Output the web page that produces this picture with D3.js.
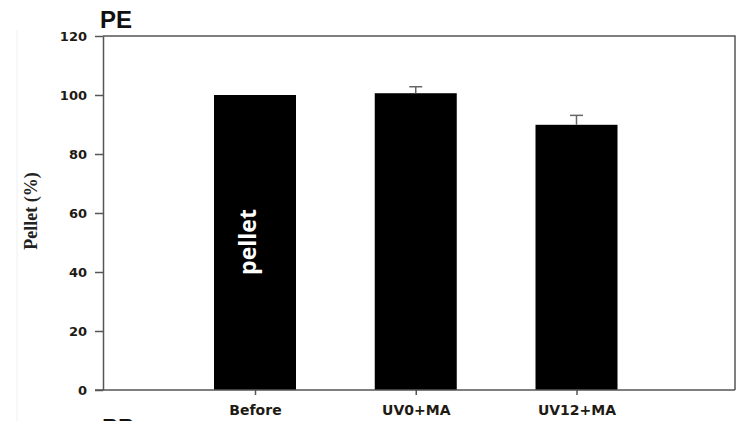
<!DOCTYPE html>
<html>
<head>
<meta charset="utf-8">
<script src="https://cdn.jsdelivr.net/npm/d3@7"></script>
<style>
  body { margin: 0; background: #fff; }
  svg { display: block; }
</style>
</head>
<body>
<svg id="svg1" width="742" height="421"></svg>
<script>
var categories = ["Before", "UV0+MA", "UV12+MA"];
var pellet = [100, 100.6, 89.9];
var pelletErr = [0, 2.2, 3.2];
var yTicks = [0, 20, 40, 60, 80, 100, 120];

var svg = d3.select("#svg1");
var plotLeft = 103, plotRight = 735, plotTop = 36, plotBottom = 390;

var yScale = d3.scaleLinear().domain([0, 120]).range([plotBottom, plotTop]);
var xScale = d3.scalePoint().domain(categories).range([255, 576.5]);
var barW = 82;

// faint crop edge at the left of the scan
svg.append("line")
  .attr("x1", 17).attr("x2", 17).attr("y1", 30).attr("y2", 421)
  .attr("stroke", "#f0f0f0").attr("stroke-width", 1);

// frame (top + right)
svg.append("path")
  .attr("d", "M" + plotLeft + "," + plotTop + "H" + plotRight + "V" + plotBottom)
  .attr("fill", "none")
  .attr("stroke", "#555")
  .attr("stroke-width", 1.5);

// bars
svg.selectAll(".bar")
  .data(categories)
  .enter().append("rect")
  .attr("class", "bar")
  .attr("x", function(d) { return xScale(d) - barW / 2; })
  .attr("y", function(d, i) { return yScale(pellet[i]); })
  .attr("width", barW)
  .attr("height", function(d, i) { return plotBottom - yScale(pellet[i]); })
  .attr("fill", "#000");

// error bars (upper only)
var eb = svg.selectAll(".err")
  .data(categories.filter(function(d, i) { return pelletErr[i] > 0; }))
  .enter().append("g").attr("class", "err");
eb.append("line")
  .attr("x1", function(d) { return xScale(d); })
  .attr("x2", function(d) { return xScale(d); })
  .attr("y1", function(d) { var i = categories.indexOf(d); return yScale(pellet[i]); })
  .attr("y2", function(d) { var i = categories.indexOf(d); return yScale(pellet[i] + pelletErr[i]); })
  .attr("stroke", "#666").attr("stroke-width", 1.5);
eb.append("line")
  .attr("x1", function(d) { return xScale(d) - 6.5; })
  .attr("x2", function(d) { return xScale(d) + 6.5; })
  .attr("y1", function(d) { var i = categories.indexOf(d); return yScale(pellet[i] + pelletErr[i]); })
  .attr("y2", function(d) { var i = categories.indexOf(d); return yScale(pellet[i] + pelletErr[i]); })
  .attr("stroke", "#666").attr("stroke-width", 1.5);

// y axis
var yAxis = svg.append("g")
  .attr("transform", "translate(" + plotLeft + ",0)")
  .call(d3.axisLeft(yScale).tickValues(yTicks).tickSize(8).tickSizeOuter(0).tickPadding(8));
yAxis.select(".domain").attr("stroke", "#555").attr("stroke-width", 1.5);
yAxis.selectAll(".tick line").attr("stroke", "#555").attr("stroke-width", 1.5);
yAxis.selectAll(".tick text")
  .attr("font-family", "DejaVu Sans, sans-serif")
  .attr("font-weight", "bold")
  .attr("font-size", "13px")
  .attr("fill", "#1e1a14");

// x axis
var xAxis = svg.append("g")
  .attr("transform", "translate(0," + plotBottom + ")")
  .call(d3.axisBottom(xScale).tickSize(5).tickSizeOuter(0).tickPadding(10));
xAxis.select(".domain").attr("d", "M" + (plotLeft - 8) + ",0H" + plotRight).attr("stroke", "#555").attr("stroke-width", 1.5);
xAxis.selectAll(".tick line").attr("stroke", "#555").attr("stroke-width", 1.5);
xAxis.selectAll(".tick text")
  .attr("font-family", "DejaVu Sans, sans-serif")
  .attr("font-weight", "bold")
  .attr("font-size", "14px")
  .attr("fill", "#1e1a14");

// y label
svg.append("text")
  .attr("transform", "translate(37,211) rotate(-90)")
  .attr("text-anchor", "middle")
  .attr("font-family", "Liberation Serif, Times New Roman, serif")
  .attr("font-weight", "bold")
  .attr("font-size", "18px")
  .attr("fill", "#222")
  .text("Pellet (%)");

// bar annotation
svg.append("text")
  .attr("transform", "translate(256,242) rotate(-90)")
  .attr("text-anchor", "middle")
  .attr("font-family", "Open Sans, sans-serif")
  .attr("font-weight", "bold")
  .attr("font-size", "23px")
  .attr("fill", "#fff")
  .text("pellet");

// panel titles
svg.append("text")
  .attr("x", 100).attr("y", 28)
  .attr("font-family", "Liberation Sans, Arial, sans-serif")
  .attr("font-weight", "bold")
  .attr("font-size", "24px")
  .attr("fill", "#111")
  .text("PE");
svg.append("text")
  .attr("x", 102).attr("y", 436)
  .attr("font-family", "Liberation Sans, Arial, sans-serif")
  .attr("font-weight", "bold")
  .attr("font-size", "24px")
  .attr("fill", "#111")
  .text("PP");
</script>
</body>
</html>
